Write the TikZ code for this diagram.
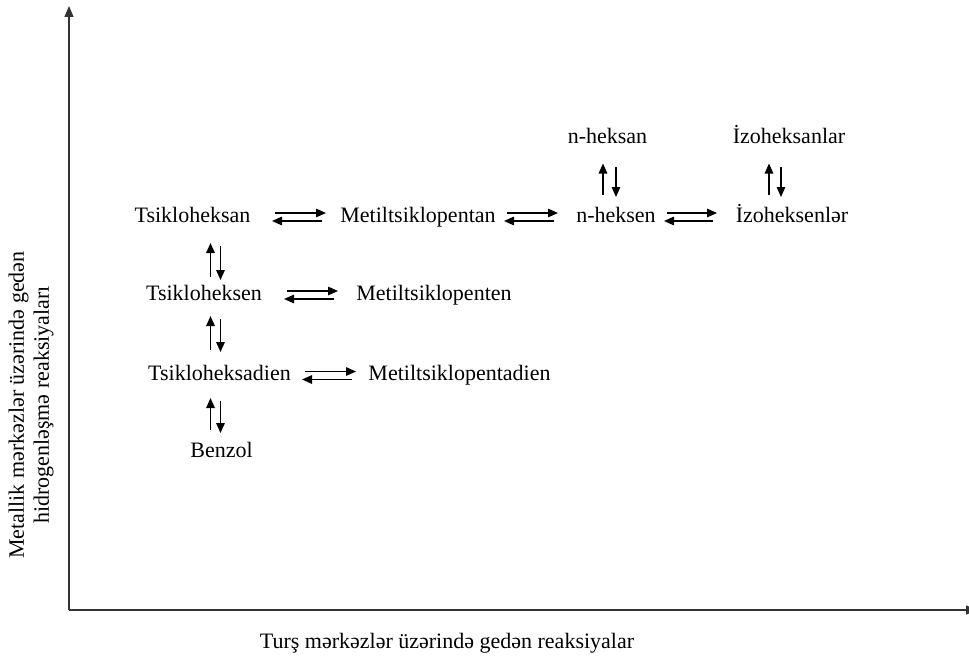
\documentclass[tikz,border=0pt]{standalone}
\usepackage{fontspec}
\setmainfont{Liberation Serif}
\usetikzlibrary{arrows.meta,calc}

\tikzset{
  lbl/.style={anchor=base, inner sep=0pt, font=\fontsize{22}{24}\selectfont},
  rxn/.style={line width=1.5pt, -{Triangle[length=10pt,width=8.5pt]}},
  axisline/.style={line width=1.5pt, draw=black!80, -{Triangle[length=11pt,width=9pt]}}
}

% equilibrium pair between two nodes on one row:
% #1 left node, #2 right node, #3 x-offset from left node, #4 x-offset from right node
\newcommand\eqpairh[4]{%
  \draw[rxn] ($(#1.base)+(#3,-9)$) -- ($(#2.base)+(#4,-9)$);
  \draw[rxn] ($(#2.base)+(#4-4,-1)$) -- ($(#1.base)+(#3-3,-1)$);
}

\begin{document}
\begin{tikzpicture}[x=1pt, y=-1pt]
  \useasboundingbox (0,0) rectangle (969,658);

  % axes
  \coordinate (O) at (69,610);
  \coordinate (Ytip) at (69,6);
  \coordinate (Xtip) at (977,610);
  \draw[axisline] (O) -- (Ytip);
  \draw[axisline] (O) -- (Xtip);

  % axis titles
  \node[font=\fontsize{22}{25}\selectfont, rotate=90, align=center, inner sep=0pt]
    (ylabel) at (31,405) {Metallik mərkəzlər üzərində gedən\\hidrogenləşmə reaksiyaları};
  \node[lbl] (xlabel) at (447,648) {Turş mərkəzlər üzərində gedən reaksiyalar};

  % compounds
  \node[lbl] (nhxan)  at (607.5,143.5) {n-heksan};
  \node[lbl] (izoan)  at (789,143.5)   {İzoheksanlar};
  \node[lbl] (tsan)   at (192.5,222)   {Tsikloheksan};
  \node[lbl] (mcpan)  at (418,222)     {Metiltsiklopentan};
  \node[lbl] (nhxen)  at (616,222)     {n-heksen};
  \node[lbl] (izoen)  at (792,222)     {İzoheksenlər};
  \node[lbl] (tsen)   at (204,300)     {Tsikloheksen};
  \node[lbl] (mcpen)  at (434,300)     {Metiltsiklopenten};
  \node[lbl] (tsdien) at (219.5,380.5) {Tsikloheksadien};
  \node[lbl] (mcpdien)at (459.5,380.5) {Metiltsiklopentadien};
  \node[lbl] (benzol) at (221.5,457)   {Benzol};

  % horizontal equilibria
  \eqpairh{tsan}{mcpan}{82.5}{-92}
  \eqpairh{mcpan}{nhxen}{89}{-58}
  \eqpairh{nhxen}{izoen}{51}{-75}
  \eqpairh{tsen}{mcpen}{83}{-96}
  \eqpairh{tsdien}{mcpdien}{85.5}{-103.5}

  % vertical equilibria
  \draw[rxn] ($(tsen.base)+(6.5,-23)$) -- ($(tsan.base)+(18,21)$);
  \draw[rxn] ($(tsan.base)+(28,24)$) -- ($(tsen.base)+(16.5,-20)$);

  \draw[rxn] ($(tsdien.base)+(-9,-30.5)$) -- ($(tsen.base)+(6.5,16)$);
  \draw[rxn] ($(tsen.base)+(16.5,19)$) -- ($(tsdien.base)+(1,-28.5)$);

  \draw[rxn] ($(benzol.base)+(-11,-27)$) -- ($(tsdien.base)+(-9,17.5)$);
  \draw[rxn] ($(tsdien.base)+(1,20.5)$) -- ($(benzol.base)+(-1,-24)$);

  \draw[rxn] ($(nhxen.base)+(-13,-27)$) -- ($(nhxan.base)+(-4.5,20)$);
  \draw[rxn] ($(nhxan.base)+(8.5,23)$) -- ($(nhxen.base)+(0,-25)$);

  \draw[rxn] ($(izoen.base)+(-23,-27)$) -- ($(izoan.base)+(-20,20)$);
  \draw[rxn] ($(izoan.base)+(-8,23)$) -- ($(izoen.base)+(-11,-25)$);
\end{tikzpicture}
\end{document}
